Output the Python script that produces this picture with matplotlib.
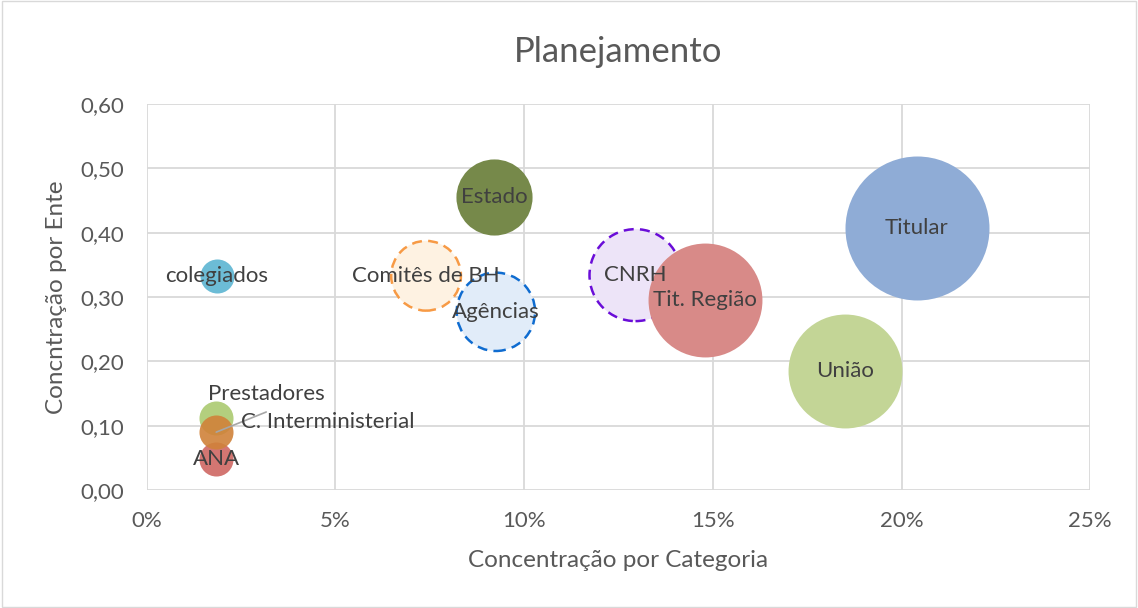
import matplotlib.pyplot as plt
import matplotlib.ticker as ticker

plt.rcParams['font.family'] = ['Lato', 'DejaVu Sans']

# bubble data
names = ['Titular', 'União', 'Tit. Região', 'CNRH', 'Estado', 'Agências',
         'Comitês de BH', 'colegiados', 'Prestadores', 'C. Interministerial', 'ANA']
cat_conc = [0.204, 0.185, 0.148, 0.1295, 0.092, 0.0925, 0.074, 0.0185, 0.0184, 0.0184, 0.0184]
ent_conc = [0.407, 0.185, 0.295, 0.334, 0.456, 0.277, 0.333, 0.333, 0.112, 0.090, 0.048]
sizes = [17.9, 11.2, 11.2, 7.3, 5.0, 5.3, 4.2, 1.0, 1.0, 1.0, 1.0]

fills = ['#8FACD6', '#C3D596', '#D88A88', '#EDE4F8', '#76894A', '#E1ECF9',
         '#FEF2E2', '#6CBCD6', '#B3CF7E', '#D0823A', '#D37672']
alphas = [1, 1, 1, 1, 1, 1, 1, 1, 1, 0.9, 1]
edges = [None, None, None, '#6A0DD8', None, '#0F6CD0', '#F79A45', None, None, None, None]


def main():
    fig = plt.figure(figsize=(11.38, 6.08), dpi=100)
    ax = fig.add_axes([0.129, 0.194, 0.829, 0.635])

    scale = 10750 / 17.9  # points^2 per size unit
    order = [0, 1, 3, 2, 4, 6, 5, 7, 8, 10, 9]
    for i in order:
        kw = dict(s=sizes[i] * scale, color=fills[i], alpha=alphas[i], zorder=3)
        if edges[i]:
            kw.update(edgecolors=edges[i], linewidths=1.8, linestyle=(0, (4, 2.5)))
        else:
            kw.update(linewidths=0)
        ax.scatter(cat_conc[i], ent_conc[i], **kw)

    txt = dict(fontsize=16, color='#404040', zorder=5)
    offsets = {'Prestadores': (36, 17)}
    for i, n in enumerate(names):
        if n == 'C. Interministerial':
            # leader line then label
            ax.annotate('', (cat_conc[i], ent_conc[i]), xytext=(36, 14.5),
                        textcoords='offset points',
                        arrowprops=dict(arrowstyle='-', color='#A6A6A6', lw=1.2,
                                        shrinkA=0, shrinkB=0), zorder=4)
            ax.annotate(n, (cat_conc[i], ent_conc[i]), xytext=(18, 7),
                        textcoords='offset points', ha='left', va='center', **txt)
            continue
        dx, dy = offsets.get(n, (0, 0))
        ax.annotate(n, (cat_conc[i], ent_conc[i]), xytext=(dx, dy),
                    textcoords='offset points', ha='center', va='center', **txt)

    ax.set_xlim(0, 0.25)
    ax.set_ylim(0, 0.60)
    ax.xaxis.set_major_locator(ticker.MultipleLocator(0.05))
    ax.yaxis.set_major_locator(ticker.MultipleLocator(0.10))
    ax.xaxis.set_major_formatter(ticker.FuncFormatter(lambda v, p: '%d%%' % round(v * 100)))
    ax.yaxis.set_major_formatter(ticker.FuncFormatter(lambda v, p: ('%.2f' % v).replace('.', ',')))
    ax.grid(True, color='#D9D9D9', lw=1.3, zorder=0)
    ax.set_axisbelow(True)
    for s in ax.spines.values():
        s.set_visible(False)
    ax.tick_params(length=0, labelsize=16, labelcolor='#595959')
    ax.tick_params(axis='x', pad=15)
    ax.tick_params(axis='y', pad=16)

    ax.set_xlabel('Concentração por Categoria', fontsize=17.5, color='#595959', labelpad=14)
    ax.set_ylabel('Concntração por Ente', fontsize=17.5, color='#595959', labelpad=10)
    ax.set_title('Planejamento', fontsize=25, color='#595959', pad=30)

    fig.patches.append(plt.Rectangle((0.002, 0.002), 0.996, 0.996, transform=fig.transFigure,
                                     fill=False, edgecolor='#D9D9D9', lw=1))
    fig.savefig('out.png', dpi=100)


if __name__ == "__main__":
    main()
